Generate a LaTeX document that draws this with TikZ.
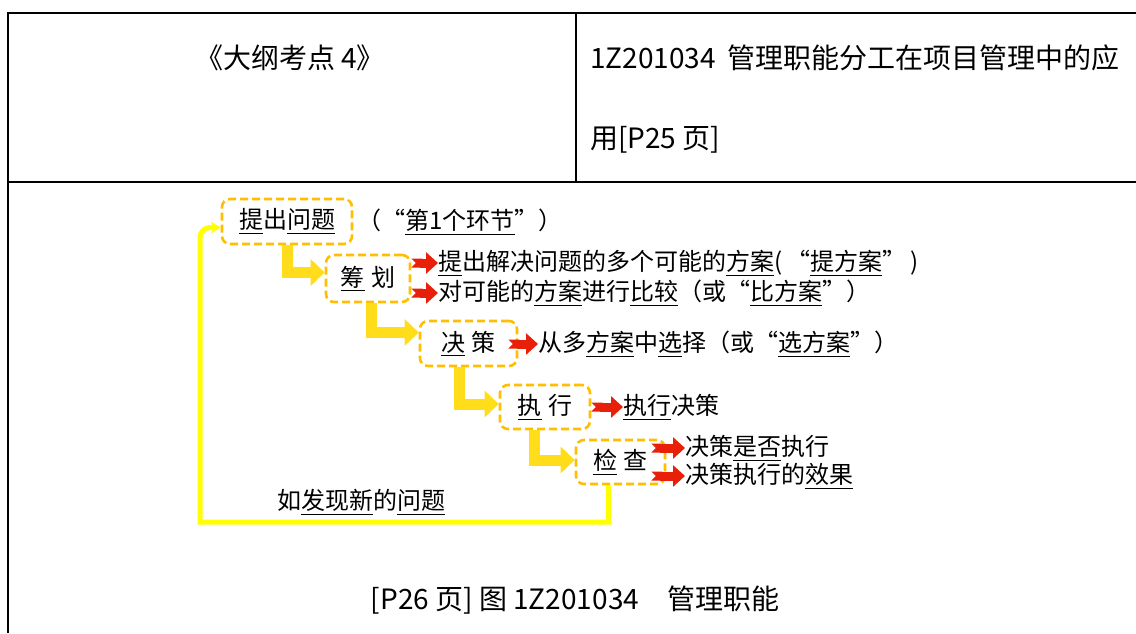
\documentclass[tikz,border=0pt]{standalone}
\usepackage{fontspec}
\setmainfont{Noto Sans CJK SC}
\usetikzlibrary{arrows.meta}
\newcommand\udl[1]{\setbox0\hbox{#1}\rlap{\vrule height -4pt depth 5.2pt width \wd0}\box0}
\newcommand\gap{\hspace{7pt}}
\definecolor{boxgold}{HTML}{FFBF00}
\definecolor{arrowgold}{HTML}{FFDD1A}
\definecolor{notchred}{HTML}{E8200A}
\definecolor{loopyellow}{HTML}{FFFF00}
\newcommand\headfont{\fontsize{28}{33}\selectfont}
\begin{document}
\begin{tikzpicture}[x=1pt,y=-1pt,
    every node/.style={font=\fontsize{24}{28}\selectfont},
    stage/.style={draw=boxgold,line width=2.6pt,dash pattern=on 8pt off 4pt,
                  rounded corners=8pt,minimum height=45pt,inner sep=0pt},
    note/.style={anchor=west,inner sep=0pt},
    flow/.style={draw=arrowgold,line width=11pt,-{Triangle[length=14pt,width=26pt]}},
    pick/.style={draw=notchred,line width=9pt,{Triangle Cap[reversed]}-{Triangle[length=12pt,width=21pt]}},
    back/.style={draw=loopyellow,line width=5pt,-{Stealth[length=10pt,width=12pt]}}]
  \useasboundingbox (0,0) rectangle (1136,633);

  % table frame
  \draw[line width=2pt] (1136,13) -- (8,13) -- (8,633);
  \draw[line width=2pt] (8,182) -- (1136,182);
  \draw[line width=1.5pt] (576,13) -- (576,182);
  \node[font=\headfont] (outline) at (290,58) {《大纲考点 4》};
  \node[note,font=\headfont] (code) at (590,58) {1Z201034\hspace{12pt}管理职能分工在项目管理中的应};
  \node[note,font=\headfont] (page) at (590,140) {用[P25 页]};
  \node[font=\headfont] (caption) at (575,600) {[P26 页] 图 1Z201034\quad 管理职能};

  \node[stage,minimum width=130pt] (ask) at (287,221.5) {\udl{提}出\udl{问题}\hspace{8pt}};
  \node[stage,minimum width=84pt,minimum height=47pt] (plan) at (368,278.5) {\udl{筹}\gap 划};
  \node[stage,minimum width=97pt] (decide) at (468.5,343.5) {\udl{决}\gap 策};
  \node[stage,minimum width=90pt,minimum height=44pt] (act) at (545,407) {\udl{执}\gap 行};
  \node[stage,minimum width=89pt,minimum height=44pt] (check) at (620.5,462) {\udl{检}\gap 查};

  \node[note] (tag) at (357,222) {（“\udl{第1个环节}”）};
  \node[note] (propose) at (438,263) {\udl{提}出解决问题的多个可能的\udl{方案}(\,“\udl{提方案}”\,)};
  \node[note] (compare) at (438,293) {对可能的\udl{方案}进行\udl{比较}（或“\udl{比方案}”）};
  \node[note] (choose) at (538,344) {从多\udl{方案}中\udl{选}择（或“\udl{选方案}”）};
  \node[note] (carry) at (623,407) {\udl{执行}决策};
  \node[note] (whether) at (685,448) {决策\udl{是否}执行};
  \node[note] (effect) at (685,476) {决策执行的\udl{效果}};
  \node[note] (newq) at (277,502) {如\udl{发现新}的\udl{问题}};

  \foreach \from/\to/\dx/\dy in {ask/plan/0/6,plan/decide/3/11,decide/act/-9/3,act/check/-11/2}
    \draw[flow] ([xshift=\dx pt]\from.south) |- ([yshift=\dy pt]\to.west);

  \draw[pick] (plan.east |- propose.west) -- (propose.west);
  \draw[pick] (plan.east |- compare.west) -- (compare.west);
  \draw[pick] ([xshift=-10pt]decide.east |- choose.west) -- (choose.west);
  \draw[pick] (act.east |- carry.west) -- (carry.west);
  \draw[pick] ([xshift=-15pt]check.east |- whether.west) -- (whether.west);
  \draw[pick] ([xshift=-15pt]check.east |- effect.west) -- (effect.west);

  \coordinate (loopbase) at (200,522);
  \draw[back] ([xshift=-12pt]check.south) |- (loopbase) [rounded corners=10pt] |- ([yshift=-6pt]ask.west);
\end{tikzpicture}
\end{document}
